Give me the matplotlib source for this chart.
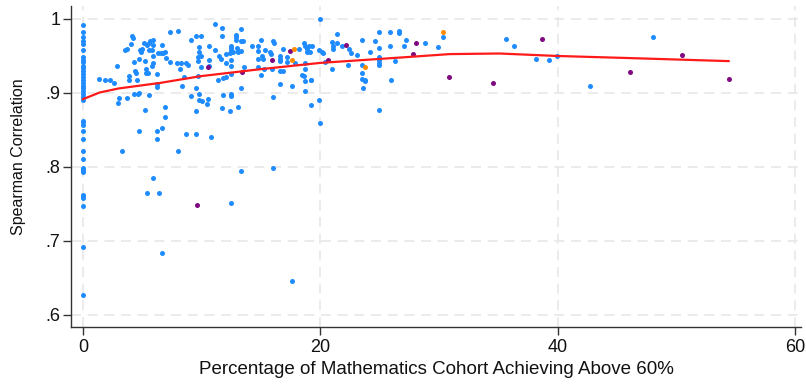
import matplotlib
matplotlib.use("Agg")
import matplotlib.pyplot as plt

# ---- data ----
col0_y = [0.992, 0.983, 0.975, 0.970, 0.966, 0.958, 0.949, 0.945, 0.942, 0.937,
          0.934, 0.930, 0.926, 0.921, 0.918, 0.913, 0.909, 0.906, 0.902, 0.899,
          0.895, 0.890, 0.862, 0.860, 0.857, 0.848, 0.837, 0.821, 0.810, 0.798,
          0.795, 0.793, 0.762, 0.760, 0.758, 0.747, 0.692, 0.627]

blue_x = [1.32, 1.88, 2.30, 2.61, 2.84, 3.00, 2.93, 3.71, 3.85, 3.85, 3.57, 3.74,
          4.13, 4.24, 4.07, 4.32, 4.35, 4.49, 4.32, 4.60, 4.74, 4.57, 4.74, 4.80,
          5.00, 4.89, 5.14, 5.36, 5.53, 5.67, 5.87, 5.87, 5.84, 5.22, 5.28, 5.31,
          5.50, 5.53, 5.59, 5.25, 5.87, 5.87, 5.81, 6.23, 6.26, 6.26, 6.63, 6.35,
          6.54, 6.74, 6.91, 6.96, 7.33, 7.33, 7.98, 7.89, 8.26, 8.20, 8.71, 8.88,
          9.07, 9.52, 9.80, 9.74, 9.69, 9.66, 8.31, 9.07, 9.77, 9.74, 6.88, 6.91,
          8.51, 9.72,
          11.09, 11.74, 13.31, 9.97, 11.74, 12.86, 12.86, 12.86, 13.28, 13.51,
          10.59, 12.47, 12.47, 12.47, 12.95, 13.09, 13.35, 11.12, 9.97, 10.61,
          11.49, 11.63, 12.02, 12.42, 12.67, 13.03, 12.08, 12.47, 12.47, 10.59,
          9.97, 13.56, 14.27, 14.77, 14.97, 15.98, 16.09, 14.77, 15.36, 15.06,
          14.77, 15.19, 15.75, 15.81, 16.85, 16.62, 16.62, 16.62, 17.16, 17.16,
          14.77, 15.28, 15.95, 14.97, 15.98, 16.62, 17.58, 17.86, 18.20, 18.59,
          18.71, 18.88, 19.02, 19.33, 18.86, 19.14, 18.71, 18.71, 18.48, 18.65,
          18.71, 19.21, 19.94, 19.88, 20.10, 19.88, 19.18, 18.68, 13.31, 12.47,
          12.47, 11.80, 10.53, 10.00, 10.47, 11.74, 12.42, 13.03, 11.40, 11.80,
          12.08, 12.47, 16.62, 16.87, 9.49,
          20.25, 20.36, 21.37, 21.00, 21.42, 21.09, 21.03, 21.79, 22.39, 22.55,
          23.11, 23.48, 24.60, 24.94, 25.86, 26.60, 26.60, 27.21, 25.88, 27.04,
          28.81, 29.93, 24.96, 24.18, 24.96, 24.96, 24.96, 24.96, 26.26, 23.48,
          22.33, 21.00, 23.48, 23.48, 23.76, 23.62, 25.92, 24.96, 19.18, 23.80,
          30.36, 35.64, 36.28, 38.19, 39.29, 39.90, 42.74, 48.05,
          9.49, 4.75, 6.23, 6.66, 6.23, 3.31, 7.98, 8.68, 9.49, 10.78, 13.31,
          5.87, 5.39, 6.43, 12.47, 6.66, 19.97, 15.98, 17.60]
blue_y = [0.919, 0.917, 0.918, 0.913, 0.937, 0.893, 0.886, 0.893, 0.923, 0.918, 0.958, 0.960,
          0.977, 0.974, 0.966, 0.942, 0.930, 0.927, 0.898, 0.898, 0.900, 0.917, 0.946, 0.958,
          0.960, 0.955, 0.967, 0.965, 0.968, 0.970, 0.972, 0.965, 0.958, 0.943, 0.932, 0.927,
          0.927, 0.958, 0.897, 0.877, 0.950, 0.941, 0.937, 0.925, 0.912, 0.908, 0.965, 0.954,
          0.954, 0.954, 0.955, 0.947, 0.942, 0.982, 0.984, 0.941, 0.940, 0.932, 0.941, 0.938,
          0.972, 0.977, 0.962, 0.956, 0.949, 0.943, 0.909, 0.896, 0.898, 0.890, 0.881, 0.868,
          0.922, 0.923,
          0.993, 0.988, 0.986, 0.977, 0.977, 0.978, 0.975, 0.972, 0.970, 0.970,
          0.963, 0.964, 0.961, 0.958, 0.961, 0.957, 0.957, 0.958, 0.950, 0.945,
          0.950, 0.946, 0.952, 0.954, 0.955, 0.955, 0.941, 0.945, 0.936, 0.936,
          0.935, 0.935, 0.964, 0.964, 0.971, 0.970, 0.967, 0.957, 0.958, 0.950,
          0.946, 0.946, 0.955, 0.953, 0.959, 0.950, 0.946, 0.943, 0.949, 0.942,
          0.935, 0.932, 0.933, 0.924, 0.894, 0.912, 0.909, 0.941, 0.960, 0.967,
          0.963, 0.960, 0.964, 0.964, 0.955, 0.955, 0.940, 0.933, 0.924, 0.923,
          0.916, 0.918, 1.000, 0.958, 0.955, 0.890, 0.884, 0.903, 0.906, 0.899,
          0.896, 0.897, 0.892, 0.889, 0.885, 0.879, 0.875, 0.881, 0.917, 0.920,
          0.921, 0.926, 0.929, 0.929, 0.906,
          0.954, 0.942, 0.980, 0.969, 0.968, 0.963, 0.960, 0.963, 0.960, 0.954,
          0.951, 0.972, 0.970, 0.982, 0.982, 0.984, 0.981, 0.972, 0.964, 0.963,
          0.968, 0.962, 0.961, 0.956, 0.949, 0.945, 0.941, 0.938, 0.943, 0.938,
          0.938, 0.932, 0.927, 0.919, 0.917, 0.907, 0.917, 0.877, 0.918, 0.916,
          0.976, 0.973, 0.964, 0.946, 0.945, 0.950, 0.909, 0.976,
          0.876, 0.848, 0.849, 0.852, 0.837, 0.822, 0.822, 0.844, 0.844, 0.840, 0.794,
          0.785, 0.764, 0.765, 0.751, 0.684, 0.859, 0.799, 0.645]

purple_x = [10.50, 13.39, 15.93, 17.44, 20.67, 22.16, 27.83, 28.05, 30.86,
            34.54, 38.70, 46.05, 50.46, 54.42, 9.63]
purple_y = [0.935, 0.928, 0.945, 0.957, 0.945, 0.965, 0.953, 0.967, 0.921,
            0.913, 0.973, 0.928, 0.951, 0.919, 0.748]

orange_x = [17.78, 17.58, 23.76, 30.36]
orange_y = [0.960, 0.945, 0.935, 0.982]

fit_x = [0, 1.4, 3.0, 6.5, 9.9, 14.9, 20.0, 26.7, 30.9, 35.1, 39.9, 46.3, 54.4]
fit_y = [0.8915, 0.9005, 0.906, 0.9135, 0.9226, 0.932, 0.9406, 0.9478, 0.9525,
         0.9533, 0.950, 0.947, 0.943]

x_ticks = [0, 20, 40, 60]
y_ticks = [0.6, 0.7, 0.8, 0.9, 1.0]
y_ticklabels = [".6", ".7", ".8", ".9", "1"]

# ---- plot ----
plt.rcParams['font.family'] = ['Liberation Sans', 'DejaVu Sans']
fig = plt.figure(figsize=(8.06, 3.89), dpi=100)
ax = fig.add_axes([0.0881, 0.1594, 0.9057, 0.8252])

grid_kw = dict(color='#e8e8e8', lw=1.2, dashes=(6, 4), zorder=0)
for t in y_ticks:
    ax.axhline(t, **grid_kw)
for t in x_ticks:
    ax.axvline(t, **grid_kw)

ms = 13
ax.scatter([0] * len(col0_y), col0_y, s=ms, color='#1e8cff', lw=0, zorder=2)
ax.scatter(blue_x, blue_y, s=ms, color='#1e8cff', lw=0, zorder=2)
ax.scatter(purple_x, purple_y, s=ms, color='#7f0a7f', lw=0, zorder=3)
ax.scatter(orange_x, orange_y, s=ms, color='#ff8c00', lw=0, zorder=3)
ax.plot(fit_x, fit_y, color='#ff1a1a', lw=1.6, zorder=4)

ax.set_xlim(-1.01, 60.5)
ax.set_ylim(0.5832, 1.0176)
ax.set_xticks(x_ticks)
ax.set_yticks(y_ticks)
ax.set_yticklabels(y_ticklabels)
for s in ['top', 'right']:
    ax.spines[s].set_visible(False)
for s in ['left', 'bottom']:
    ax.spines[s].set_color('#333333')
    ax.spines[s].set_linewidth(1.0)
ax.tick_params(axis='both', direction='out', length=6, width=1.0, color='#333333',
               labelsize=13, labelcolor='#111111')
ax.tick_params(axis='y', pad=1.5)
ax.tick_params(axis='x', pad=3)
ax.set_xlabel('Percentage of Mathematics Cohort Achieving Above 60%', fontsize=13.5,
              color='#111111', labelpad=3)
ax.set_ylabel('Spearman Correlation', fontsize=11.5, color='#111111')
ax.yaxis.set_label_coords(-0.062, 0.53)

fig.savefig('out.png', dpi=100)
